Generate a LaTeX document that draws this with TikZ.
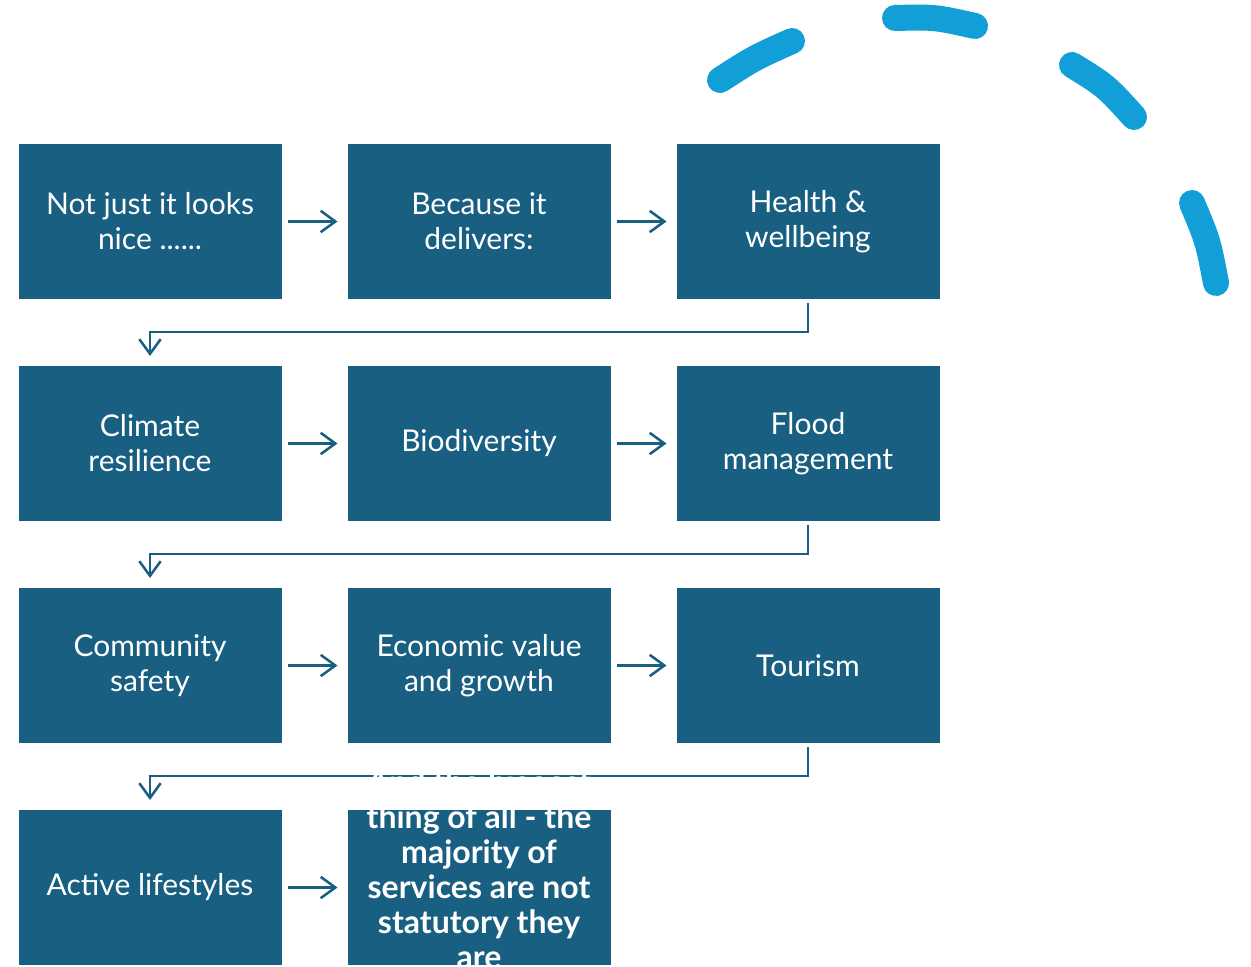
\documentclass[tikz,border=0pt]{standalone}
\usepackage{fontspec}
\setmainfont{Lato}
\usetikzlibrary{positioning,calc,arrows.meta}

\definecolor{boxblue}{HTML}{185F81}
\definecolor{arcblue}{HTML}{129FD7}

\tikzset{
  block/.style={fill=boxblue, text=white, minimum width=197.25pt, minimum height=116.25pt,
    inner sep=0pt, outer sep=0pt, align=center, font=\fontsize{22.5}{26.25}\selectfont},
  flow/.style={draw=boxblue, line width=1.9pt, -{Straight Barb[length=11pt,width=16pt]},
    shorten <=4.5pt, shorten >=7.5pt},
  elbow/.style={flow, shorten <=3pt, shorten >=7.5pt},
  dashseg/.style={draw=arcblue, line width=19.5pt, line cap=round}
}

\begin{document}
\begin{tikzpicture}[x=0.75pt,y=-0.75pt]
\useasboundingbox (0,0) rectangle (1251,966);

% row 1
\node[block] (looks) at (150,221.5) {Not just it looks\\nice ......};
\node[block, right=49.5pt of looks] (delivers) {Because it\\delivers:};
\node[block, right=49.5pt of delivers] (health) {Health \&\\wellbeing};
% row 2
\node[block, below=50.25pt of looks] (climate) {Climate\\resilience};
\node[block, right=49.5pt of climate] (biodiv) {Biodiversity};
\node[block, right=49.5pt of biodiv] (flood) {Flood\\management};
% row 3
\node[block, below=50.25pt of climate] (community) {Community\\safety};
\node[block, right=49.5pt of community] (economic) {Economic value\\and growth};
\node[block, right=49.5pt of economic] (tourism) {Tourism};
% row 4
\node[block, below=50.25pt of community] (active) {Active lifestyles};
\node[block, right=49.5pt of active] (statutory) {};

% arrows along the rows
\draw[flow] (looks) -- (delivers);
\draw[flow] (delivers) -- (health);
\draw[flow] (climate) -- (biodiv);
\draw[flow] (biodiv) -- (flood);
\draw[flow] (community) -- (economic);
\draw[flow] (economic) -- (tourism);
\draw[flow] (active) -- (statutory);

% wrap to the next row
\draw[elbow] (health.south) -- ++(0,33) -| (climate.north);
\draw[elbow] (flood.south) -- ++(0,33) -| (community.north);
\draw[elbow] (tourism.south) -- ++(0,33) -| (active.north);

% text of the last box runs over its edges
\node[text=white, align=center, yshift=14pt, font=\bfseries\fontsize{24}{26.25}\selectfont] (statutorytext) at (statutory.center)
  {And the biggest\\thing of all - the\\majority of\\services are not\\statutory they\\are};

% dashed arc top right
\draw[dashseg] (720,80) .. controls (754,58) .. (792,41);
\draw[dashseg] (895,18) .. controls (935,17) .. (975,26);
\draw[dashseg] (1072,65) .. controls (1106,86) .. (1134,117);
\draw[dashseg] (1192,203) .. controls (1208,241) .. (1216,283);

\end{tikzpicture}
\end{document}
